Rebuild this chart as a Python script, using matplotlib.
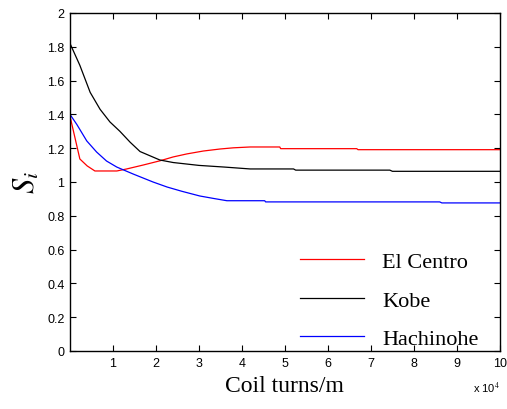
"""
Sensitivity S_i vs coil turns for three earthquake records
Output: out.png
"""
import matplotlib
matplotlib.use("Agg")
import matplotlib.pyplot as plt
from matplotlib.ticker import FormatStrFormatter

# Data (x in units of 1e4 turns/m)
x_centro = [0.0, 0.23, 0.4, 0.58, 1.09, 1.32, 1.7, 2.09, 2.4, 2.72, 3.1, 3.49, 3.8, 4.19, 4.88, 4.9, 6.67, 6.7, 10.0]
s_centro = [1.39, 1.136, 1.095, 1.065, 1.065, 1.077, 1.10, 1.125, 1.148, 1.166, 1.183, 1.195, 1.202, 1.207, 1.207, 1.197, 1.197, 1.191, 1.191]

x_kobe = [0.0, 0.23, 0.47, 0.7, 0.93, 1.16, 1.4, 1.63, 1.86, 2.09, 2.4, 3.0, 3.6, 4.19, 5.2, 5.25, 7.44, 7.5, 10.0]
s_kobe = [1.82, 1.69, 1.53, 1.43, 1.355, 1.30, 1.235, 1.18, 1.155, 1.13, 1.115, 1.098, 1.088, 1.077, 1.077, 1.07, 1.07, 1.063, 1.063]

x_hachi = [0.0, 0.16, 0.39, 0.62, 0.85, 1.09, 1.47, 1.93, 2.26, 2.6, 3.02, 3.35, 3.65, 4.53, 4.55, 8.6, 8.65, 10.0]
s_hachi = [1.40, 1.34, 1.243, 1.177, 1.124, 1.088, 1.047, 1.0, 0.97, 0.945, 0.917, 0.902, 0.889, 0.889, 0.882, 0.882, 0.876, 0.876]

labels = ["El Centro", "Kobe", "Hachinohe"]
colors = ["red", "black", "blue"]

plt.rcParams["mathtext.fontset"] = "stix"

fig = plt.figure(figsize=(5.07, 4.10), dpi=100)
ax = fig.add_axes([0.138, 0.1415, 0.848, 0.8245])

ax.plot(x_centro, s_centro, color=colors[0], linewidth=0.9, label=labels[0])
ax.plot(x_kobe, s_kobe, color=colors[1], linewidth=0.9, label=labels[1])
ax.plot(x_hachi, s_hachi, color=colors[2], linewidth=0.9, label=labels[2])

ax.set_xlim(0, 10)
ax.set_ylim(0, 2)
ax.set_xticks(range(1, 11))
ax.set_yticks([0, 0.2, 0.4, 0.6, 0.8, 1, 1.2, 1.4, 1.6, 1.8, 2])
ax.yaxis.set_major_formatter(FormatStrFormatter("%g"))
ax.tick_params(direction="in", top=True, right=True, length=4, width=0.8,
               labelsize=9, pad=4)
for lab in ax.get_xticklabels() + ax.get_yticklabels():
    lab.set_fontfamily("Liberation Sans")
for sp in ax.spines.values():
    sp.set_linewidth(1.0)

ax.set_xlabel("Coil turns/m", fontfamily="Liberation Serif", fontsize=17, labelpad=5)
ax.set_ylabel(r"$S_i$", fontsize=22, labelpad=4)

ax.text(1.0, -0.085, r"x 10$^{4}$", transform=ax.transAxes, ha="right", va="top",
        fontsize=8, fontfamily="Liberation Sans")

leg = ax.legend(loc="lower right", bbox_to_anchor=(0.971, -0.02), frameon=False,
                prop={"family": "Liberation Serif", "size": 16},
                handlelength=2.9, labelspacing=0.8, borderaxespad=0.0, handletextpad=0.8)

fig.savefig("out.png", dpi=100)
